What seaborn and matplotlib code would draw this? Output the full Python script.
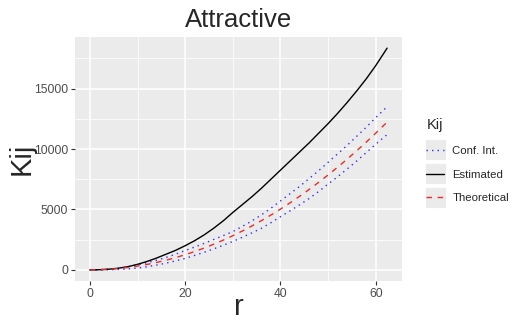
import numpy as np
import pandas as pd
import matplotlib
matplotlib.use("Agg")
import matplotlib.pyplot as plt
import seaborn as sns
from matplotlib.patches import Rectangle
from matplotlib.ticker import MultipleLocator

# -----------------------------
# DATA
# -----------------------------
r = [0, 2, 4, 6, 8, 10, 12, 14, 16, 18, 20, 22, 24, 26, 28, 30,
     32, 34, 36, 38, 40, 42, 44, 46, 48, 50, 52, 54, 56, 58, 60, 62.4]

estimated = [0, 15, 60, 140, 270, 460, 700, 980, 1300, 1620, 2000, 2420,
             2900, 3450, 4060, 4750, 5400, 6050, 6750, 7500, 8250, 9000,
             9750, 10500, 11300, 12100, 12950, 13850, 14800, 15800, 16900, 18350]

theoretical = [0, 13, 50, 113, 201, 314, 452, 616, 804, 1018, 1257, 1521,
               1810, 2124, 2463, 2827, 3217, 3632, 4072, 4536, 5027, 5542,
               6082, 6648, 7238, 7854, 8495, 9161, 9852, 10568, 11310, 12232]

conf_upper = [0, 20, 60, 130, 250, 420, 600, 800, 1030, 1300, 1600, 1890,
              2200, 2520, 2840, 3170, 3600, 4050, 4550, 5100, 5700, 6300,
              6900, 7550, 8200, 8900, 9600, 10300, 11050, 11800, 12600, 13500]

conf_lower = [0, 3, 15, 40, 85, 150, 260, 400, 560, 750, 950, 1200,
              1460, 1740, 2040, 2350, 2700, 3060, 3440, 3900, 4400, 4880,
              5380, 5900, 6480, 7100, 7700, 8350, 9000, 9700, 10400, 11200]

labels = ["Conf. Int.", "Estimated", "Theoretical"]
colors = {"Conf. Int.": "#2f2ff0", "Estimated": "black", "Theoretical": "#ee2b2b"}
dashes = {"Conf. Int.": (1, 3), "Estimated": "", "Theoretical": (4, 4)}

df = pd.concat([
    pd.DataFrame({"r": r, "K": conf_upper, "Kij": "Conf. Int.", "band": "hi"}),
    pd.DataFrame({"r": r, "K": conf_lower, "Kij": "Conf. Int.", "band": "lo"}),
    pd.DataFrame({"r": r, "K": estimated, "Kij": "Estimated", "band": "est"}),
    pd.DataFrame({"r": r, "K": theoretical, "Kij": "Theoretical", "band": "th"}),
], ignore_index=True)

# -----------------------------
# PLOT
# -----------------------------
sns.set_theme(style="darkgrid", rc={
    "axes.facecolor": "#EBEBEB",
    "grid.color": "white",
})
plt.rcParams["font.family"] = ["Liberation Sans", "DejaVu Sans"]

fig = plt.figure(figsize=(5.13, 3.24), dpi=100)
ax = fig.add_axes([75 / 513, 1 - 281 / 324, 327 / 513, 244 / 324])

sns.lineplot(data=df, x="r", y="K", hue="Kij", style="Kij", units="band",
             estimator=None, hue_order=labels, style_order=labels,
             palette=colors, dashes=dashes, linewidth=1.0, sort=False,
             ax=ax, legend=True)

ax.set_xlim(-3.12, 65.52)
ax.set_ylim(-918, 19270)
ax.xaxis.set_major_locator(MultipleLocator(20))
ax.xaxis.set_minor_locator(MultipleLocator(10))
ax.yaxis.set_major_locator(MultipleLocator(5000))
ax.yaxis.set_minor_locator(MultipleLocator(2500))
ax.grid(which="major", color="white", linewidth=1.1)
ax.grid(which="minor", color="white", linewidth=0.55)
ax.set_axisbelow(True)
for s in ax.spines.values():
    s.set_visible(False)
ax.tick_params(which="major", length=3, width=0.8, color="#333333",
               labelsize=8.7, labelcolor="#4D4D4D", pad=2, left=True, bottom=True)
ax.tick_params(which="minor", length=0)

ax.set_title("Attractive", fontsize=18.5, pad=7)
ax.set_xlabel("r", fontsize=21, labelpad=-5)
ax.set_ylabel("Kij", fontsize=21, labelpad=-1)

# legend outside, ggplot style
handles, labs = ax.get_legend_handles_labels()
ax.get_legend().remove()
leg = fig.legend(handles, labs, title="Kij", loc="upper left",
                 bbox_to_anchor=(416 / 513, 1 - 108 / 324), frameon=False,
                 fontsize=8.2, title_fontsize=10.5, handlelength=1.6,
                 handletextpad=0.7, labelspacing=1.2, alignment="left")

fig.canvas.draw()
for ln in leg.get_lines():
    bb = ln.get_window_extent(fig.canvas.get_renderer())
    cx, cy = (bb.x0 + bb.x1) / 2, (bb.y0 + bb.y1) / 2
    fig.add_artist(Rectangle(((cx - 10.5) / 513, (cy - 10.5) / 324), 21 / 513, 21 / 324,
                             transform=fig.transFigure, facecolor="#EBEBEB",
                             edgecolor="white", linewidth=0.6, zorder=-1))

fig.savefig("out.png", dpi=100)
